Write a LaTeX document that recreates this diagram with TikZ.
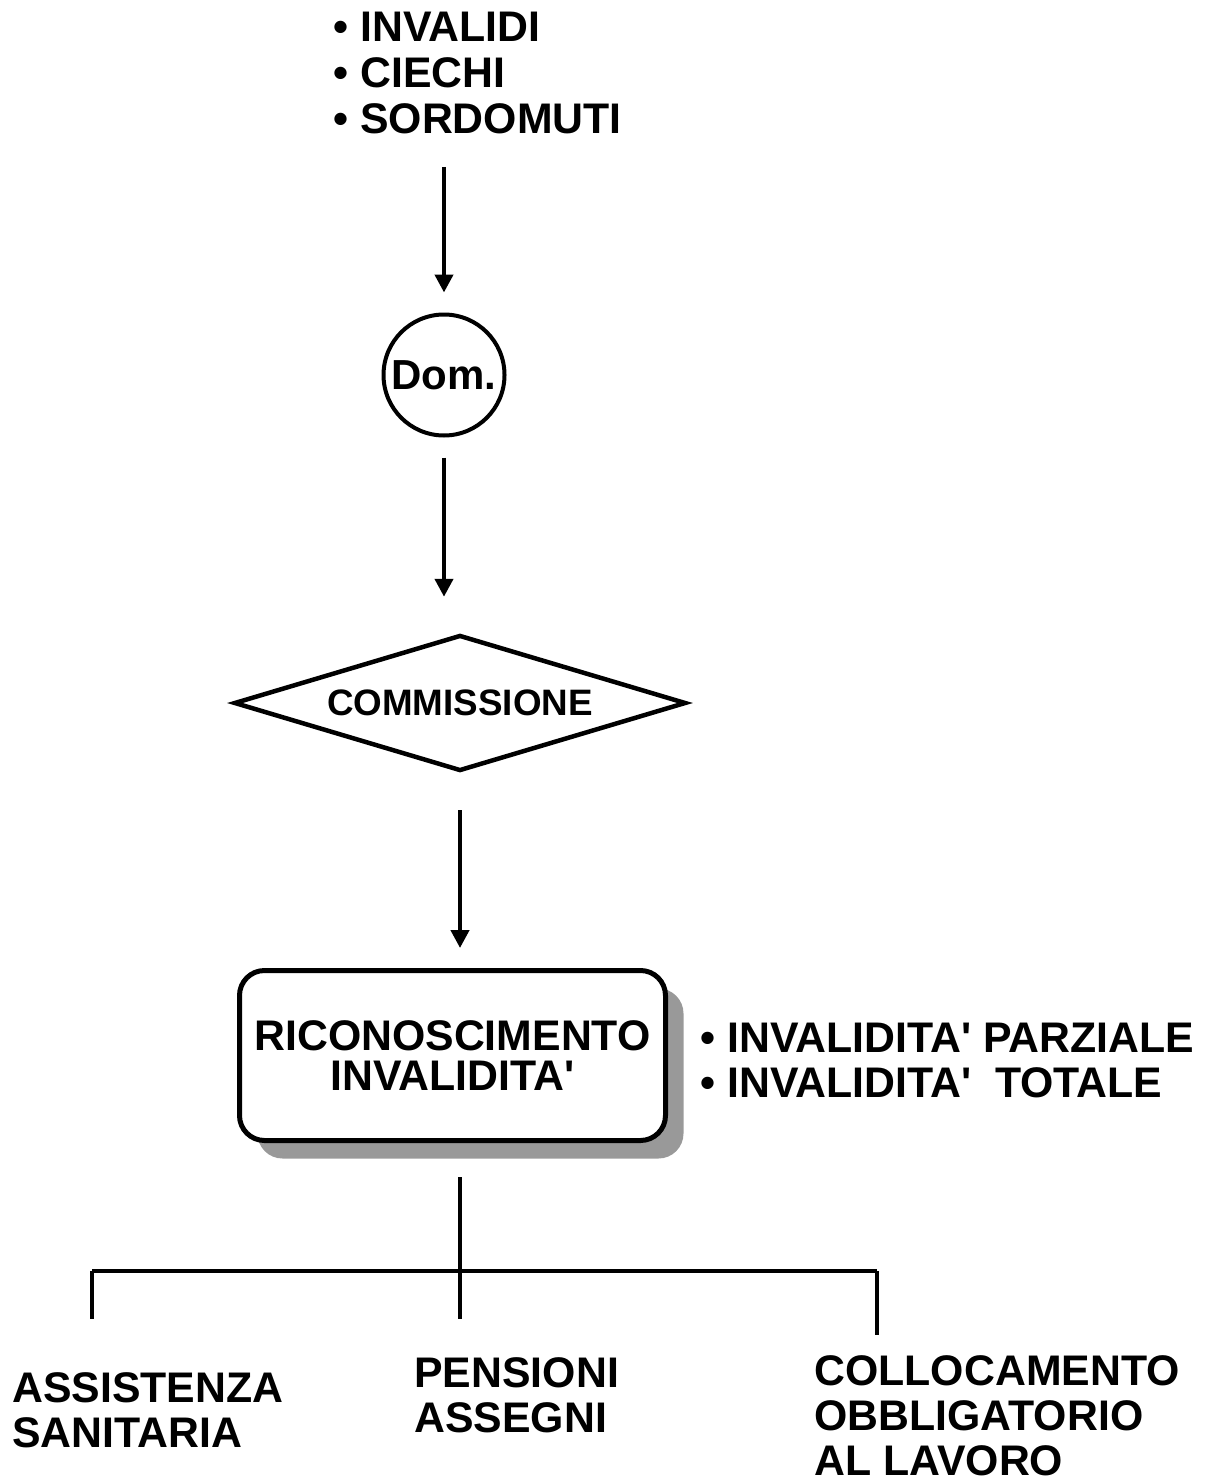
\documentclass[tikz,border=0pt]{standalone}
\usepackage{fontspec}
\setmainfont{Liberation Sans}[Ligatures=TeXOff]
\usetikzlibrary{arrows.meta,shapes.geometric,shadows}
\begin{document}
\begin{tikzpicture}[x=0.5pt,y=-0.5pt,
  txt/.style={inner sep=0pt, align=left, anchor=base west,
    font=\bfseries\fontsize{21.4pt}{22.5pt}\selectfont},
  arr/.style={line width=2.1pt, -{Triangle[width=9pt,length=9pt]}},
  link/.style={line width=1.75pt},
  bar/.style={line width=2.25pt},
]
\useasboundingbox (0,0) rectangle (1215,1482);

% categories at the top (anchored on the last line's baseline)
\node[txt, font=\bfseries\fontsize{21.4pt}{23pt}\selectfont] (top) at (333,134)
  {• INVALIDI\\• CIECHI\\• SORDOMUTI};

% application circle
\node[circle, draw, line width=2pt, minimum size=60.5pt, inner sep=0pt,
  font=\bfseries\fontsize{21pt}{23pt}\selectfont] (dom) at (444,375) {Dom.};

% commission
\node[diamond, draw, line width=2.25pt, minimum width=226pt, minimum height=68pt,
  aspect=3.3, inner sep=0pt, font=\bfseries\fontsize{18.4pt}{20pt}\selectfont]
  (comm) at (460,703) {COMMISSIONE};

% recognition box with shadow
\node[rectangle, rounded corners=12.5pt, draw, line width=2.5pt, fill=white,
  minimum width=213pt, minimum height=85pt, align=center, inner sep=0pt,
  drop shadow={shadow xshift=9pt, shadow yshift=-9pt, fill=black!40, opacity=1},
  font=\bfseries\fontsize{21.4pt}{20pt}\selectfont]
  (ric) at (452.5,1055.5) {RICONOSCIMENTO\\INVALIDITA'};

\node[txt] (deg) at (700,1097)
  {• INVALIDITA' PARZIALE\\• INVALIDITA'\ \ TOTALE};

% outcomes
\node[txt] (ass) at (12,1447) {ASSISTENZA\\SANITARIA};
\node[txt] (pen) at (414,1432) {PENSIONI\\ASSEGNI};
\node[txt] (col) at (814,1475) {COLLOCAMENTO\\OBBLIGATORIO\\AL LAVORO};

% arrows
\draw[arr, shorten <=16pt, shorten >=10pt] (dom.north |- top.south) -- (dom.north);
\draw[arr, shorten <=10pt, shorten >=18pt] (dom.south) -- (dom.south |- comm.north);
\draw[arr, shorten <=18.5pt, shorten >=10pt] (comm.south) -- (comm.south |- ric.north);

% branching tree
\coordinate (j) at (460,1271);
\coordinate (l) at (92,1271);
\coordinate (r) at (877,1271);
\coordinate (le) at (92,1319);
\coordinate (me) at (460,1319);
\coordinate (re) at (877,1335);
\draw[link, shorten <=17pt] (ric.south -| j) -- (me);
\draw[bar] (l) -- (r);
\draw[link] (l) -- (le);
\draw[link] (r) -- (re);
\end{tikzpicture}
\end{document}
